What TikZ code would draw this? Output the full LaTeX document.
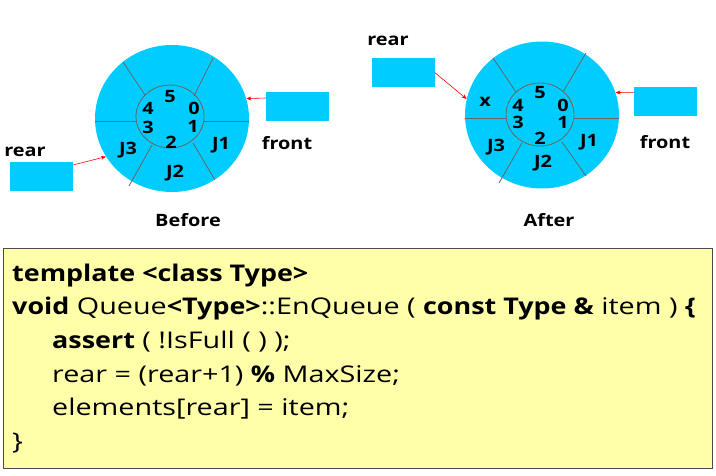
\documentclass[tikz,border=0pt]{standalone}
\usepackage{fontspec}
\setmainfont{Open Sans}[UprightFeatures={FakeStretch=1.25},BoldFeatures={FakeStretch=1.17}]
\usetikzlibrary{shapes.geometric,arrows.meta,calc}
\definecolor{qcyan}{RGB}{0,204,255}
\definecolor{qyellow}{RGB}{255,255,170}
\begin{document}
\begin{tikzpicture}[x=1pt,y=-1pt,
 ring/.style={ellipse, fill=qcyan, draw=none, inner sep=0pt, minimum width=154pt, minimum height=147pt},
 hub/.style={ellipse, draw=black!60, line width=0.8pt, inner sep=0pt, minimum width=68pt, minimum height=63pt},
 spoke/.style={draw=black!60, line width=0.8pt},
 ptr/.style={fill=qcyan, inner sep=0pt, minimum width=63pt, minimum height=29pt},
 lbl/.style={font=\bfseries\fontsize{17}{17}\selectfont, inner sep=0pt},
 ptrarrow/.style={draw=red, line width=0.6pt, -{Stealth[length=5pt,width=4pt]}},
 code/.style={anchor=base west, inner sep=0pt, font=\fontsize{23}{23}\selectfont}]
\useasboundingbox (0,0) rectangle (716,476);

% ---------- Before ----------
\node[ring] (circL) at (172,118.5) {};
\node[hub] (hubL) at (170,116.5) {};
\draw[spoke] (95,121) -- (136,121);
\draw[spoke] (204,121) -- (249,121);
\draw[spoke] (123,62) -- (145,95);
\draw[spoke] (213,58) -- (194,96);
\draw[spoke] (152,145) -- (129,186);
\draw[spoke] (193,143) -- (215,180);
\node[lbl] (l5) at (170,97) {5};
\node[lbl] (l4) at (148,108) {4};
\node[lbl] (l3) at (148,127) {3};
\node[lbl] (l0) at (194,108) {0};
\node[lbl] (l1) at (193,126) {1};
\node[lbl] (l2) at (171,142) {2};
\node[lbl] (lJ3) at (128,150) {J3};
\node[lbl] (lJ1) at (221,145) {J1};
\node[lbl] (lJ2) at (175,173) {J2};
\node[lbl] (before) at (188,220) {Before};
\node[lbl] (rearLt) at (25,152) {rear};
\node[ptr] (rearL) at (41.5,176.5) {};
\node[lbl] (frontLt) at (287,143) {front};
\node[ptr] (frontL) at (297.5,106.5) {};
\draw[ptrarrow] (rearL.20) -- (circL.210);
\draw[ptrarrow] (frontL.165) -- (circL.15);

% ---------- After ----------
\node[ring] (circR) at (542,115) {};
\node[hub] (hubR) at (540,114.5) {};
\draw[spoke] (465,118) -- (506,118);
\draw[spoke] (574,118) -- (619,118);
\draw[spoke] (493,58) -- (516,92);
\draw[spoke] (586,53) -- (563,92);
\draw[spoke] (522,143) -- (499,183);
\draw[spoke] (562,142) -- (586,176);
\node[lbl] (rx) at (485,102) {x};
\node[lbl] (r5) at (540,93) {5};
\node[lbl] (r4) at (518,105) {4};
\node[lbl] (r3) at (518,122) {3};
\node[lbl] (r0) at (563,105) {0};
\node[lbl] (r1) at (563,122) {1};
\node[lbl] (r2) at (540,138) {2};
\node[lbl] (rJ3) at (496,147) {J3};
\node[lbl] (rJ1) at (589,142) {J1};
\node[lbl] (rJ2) at (543,163) {J2};
\node[lbl] (after) at (549,220) {After};
\node[lbl] (rearRt) at (388,41) {rear};
\node[ptr] (rearR) at (403,72.5) {};
\node[lbl] (frontRt) at (665,142) {front};
\node[ptr] (frontR) at (665.5,102) {};
\draw[ptrarrow] (rearR.east) -- (circR.168);
\draw[ptrarrow] (frontR.163) -- (circR.17);

% ---------- code ----------
\node[draw=black!70, fill=qyellow, line width=1pt, inner sep=0pt,
      minimum width=709pt, minimum height=220pt, anchor=north west] (codebox) at (3,248) {};
\node[code] (c1) at (12,281.5) {\textbf{template <class Type>}};
\node[code] (c2) at (12,315) {\textbf{void} Queue\textbf{<Type>}::EnQueue ( \textbf{const Type \&} item ) \textbf{\{}};
\node[code] (c3) at (52,348.5) {\textbf{assert} ( !IsFull ( ) );};
\node[code] (c4) at (52,382) {rear = (rear+1) \textbf{\%} MaxSize;};
\node[code] (c5) at (52,415.5) {elements[rear] = item;};
\node[code] (c6) at (12,449) {\}};
\end{tikzpicture}
\end{document}
